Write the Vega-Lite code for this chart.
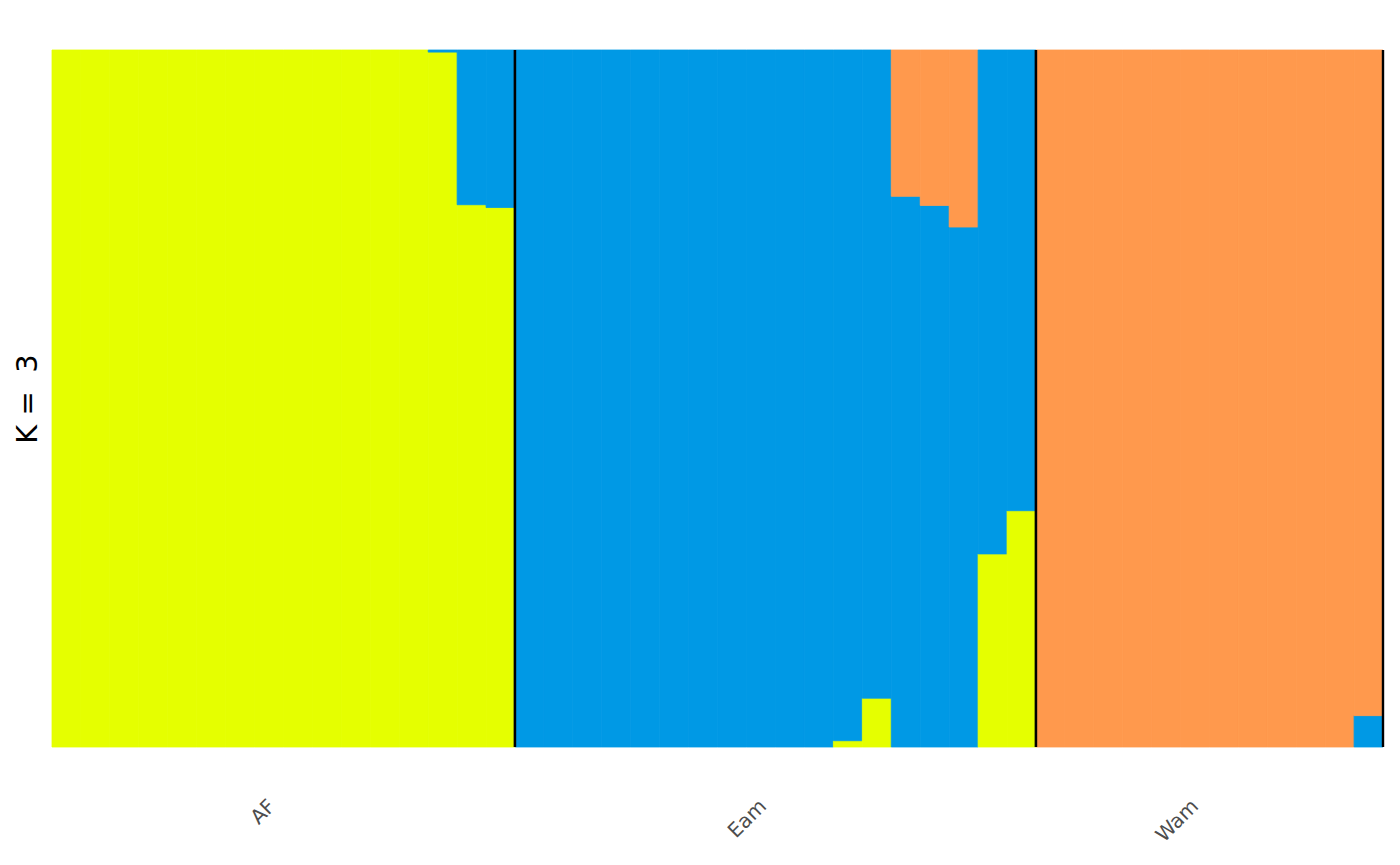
{
  "$schema": "https://vega.github.io/schema/vega-lite/v6.json",
  "padding": {"left": 13, "top": 48, "right": 12, "bottom": 5},
  "background": "white",
  "bounds": "flush",
  "data": {
    "values": [
      {"pop": "AF", "ind": 1, "k": "K1", "q": 1},
      {"pop": "AF", "ind": 2, "k": "K1", "q": 1},
      {"pop": "AF", "ind": 3, "k": "K1", "q": 1},
      {"pop": "AF", "ind": 4, "k": "K1", "q": 1},
      {"pop": "AF", "ind": 5, "k": "K1", "q": 1},
      {"pop": "AF", "ind": 6, "k": "K1", "q": 1},
      {"pop": "AF", "ind": 7, "k": "K1", "q": 1},
      {"pop": "AF", "ind": 8, "k": "K1", "q": 1},
      {"pop": "AF", "ind": 9, "k": "K1", "q": 1},
      {"pop": "AF", "ind": 10, "k": "K1", "q": 1},
      {"pop": "AF", "ind": 11, "k": "K1", "q": 1},
      {"pop": "AF", "ind": 12, "k": "K1", "q": 1},
      {"pop": "AF", "ind": 13, "k": "K1", "q": 1},
      {"pop": "AF", "ind": 14, "k": "K1", "q": 0.997},
      {"pop": "AF", "ind": 14, "k": "K2", "q": 0.003},
      {"pop": "AF", "ind": 15, "k": "K1", "q": 0.778},
      {"pop": "AF", "ind": 15, "k": "K2", "q": 0.222},
      {"pop": "AF", "ind": 16, "k": "K1", "q": 0.774},
      {"pop": "AF", "ind": 16, "k": "K2", "q": 0.226},
      {"pop": "Eam", "ind": 17, "k": "K2", "q": 1},
      {"pop": "Eam", "ind": 18, "k": "K2", "q": 1},
      {"pop": "Eam", "ind": 19, "k": "K2", "q": 1},
      {"pop": "Eam", "ind": 20, "k": "K2", "q": 1},
      {"pop": "Eam", "ind": 21, "k": "K2", "q": 1},
      {"pop": "Eam", "ind": 22, "k": "K2", "q": 1},
      {"pop": "Eam", "ind": 23, "k": "K2", "q": 1},
      {"pop": "Eam", "ind": 24, "k": "K2", "q": 1},
      {"pop": "Eam", "ind": 25, "k": "K2", "q": 1},
      {"pop": "Eam", "ind": 26, "k": "K2", "q": 1},
      {"pop": "Eam", "ind": 27, "k": "K2", "q": 1},
      {"pop": "Eam", "ind": 28, "k": "K1", "q": 0.009},
      {"pop": "Eam", "ind": 28, "k": "K2", "q": 0.991},
      {"pop": "Eam", "ind": 29, "k": "K1", "q": 0.07},
      {"pop": "Eam", "ind": 29, "k": "K2", "q": 0.93},
      {"pop": "Eam", "ind": 30, "k": "K2", "q": 0.79},
      {"pop": "Eam", "ind": 30, "k": "K3", "q": 0.21},
      {"pop": "Eam", "ind": 31, "k": "K2", "q": 0.777},
      {"pop": "Eam", "ind": 31, "k": "K3", "q": 0.223},
      {"pop": "Eam", "ind": 32, "k": "K2", "q": 0.746},
      {"pop": "Eam", "ind": 32, "k": "K3", "q": 0.254},
      {"pop": "Eam", "ind": 33, "k": "K1", "q": 0.277},
      {"pop": "Eam", "ind": 33, "k": "K2", "q": 0.723},
      {"pop": "Eam", "ind": 34, "k": "K1", "q": 0.339},
      {"pop": "Eam", "ind": 34, "k": "K2", "q": 0.661},
      {"pop": "Wam", "ind": 35, "k": "K3", "q": 1},
      {"pop": "Wam", "ind": 36, "k": "K3", "q": 1},
      {"pop": "Wam", "ind": 37, "k": "K3", "q": 1},
      {"pop": "Wam", "ind": 38, "k": "K3", "q": 1},
      {"pop": "Wam", "ind": 39, "k": "K3", "q": 1},
      {"pop": "Wam", "ind": 40, "k": "K3", "q": 1},
      {"pop": "Wam", "ind": 41, "k": "K3", "q": 1},
      {"pop": "Wam", "ind": 42, "k": "K3", "q": 1},
      {"pop": "Wam", "ind": 43, "k": "K3", "q": 1},
      {"pop": "Wam", "ind": 44, "k": "K3", "q": 1},
      {"pop": "Wam", "ind": 45, "k": "K3", "q": 1},
      {"pop": "Wam", "ind": 46, "k": "K2", "q": 0.045},
      {"pop": "Wam", "ind": 46, "k": "K3", "q": 0.955}
    ]
  },
  "spacing": 0,
  "hconcat": [
    {
      "width": 463,
      "height": 697,
      "transform": [{"filter": "datum.pop == 'AF'"}],
      "layer": [
        {
          "mark": {"type": "bar", "strokeWidth": 0.8},
          "encoding": {
            "x": {"field": "ind", "type": "ordinal", "title": "AF",
                  "scale": {"paddingInner": 0, "paddingOuter": 0},
                  "axis": {"labels": false, "ticks": false, "domain": false, "titleAngle": -45, "titleAlign": "right", "titleBaseline": "alphabetic", "titlePadding": 60, "titleX": 224}},
            "y": {"field": "q", "type": "quantitative", "stack": "zero", "title": "K = \u00a03",
                  "scale": {"domain": [0, 1], "nice": false},
                  "axis": {"labels": false, "ticks": false, "domain": false, "grid": false, "titlePadding": 10}},
            "color": {"field": "k", "type": "nominal", "legend": null,
                      "scale": {"domain": ["K1", "K2", "K3"], "range": ["#E5FF00", "#0099E5", "#FF994D"]}},
            "stroke": {"field": "k", "type": "nominal", "legend": null,
                       "scale": {"domain": ["K1", "K2", "K3"], "range": ["#E5FF00", "#0099E5", "#FF994D"]}},
            "order": {"field": "k", "sort": "ascending"}
          }
        },
        {
          "transform": [{"aggregate": [{"op": "max", "field": "ind", "as": "last"}]}],
          "mark": {"type": "rule", "color": "black", "strokeWidth": 2.4},
          "encoding": {"x": {"field": "last", "type": "ordinal", "bandPosition": 1}}
        }
      ]
    },
    {
      "width": 521,
      "height": 697,
      "transform": [{"filter": "datum.pop == 'Eam'"}],
      "layer": [
        {
          "mark": {"type": "bar", "strokeWidth": 0.8},
          "encoding": {
            "x": {"field": "ind", "type": "ordinal", "title": "Eam",
                  "scale": {"paddingInner": 0, "paddingOuter": 0},
                  "axis": {"labels": false, "ticks": false, "domain": false, "titleAngle": -45, "titleAlign": "right", "titleBaseline": "alphabetic", "titlePadding": 60, "titleX": 252}},
            "y": {"field": "q", "type": "quantitative", "stack": "zero",
                  "scale": {"domain": [0, 1], "nice": false}, "axis": null},
            "color": {"field": "k", "type": "nominal", "legend": null,
                      "scale": {"domain": ["K1", "K2", "K3"], "range": ["#E5FF00", "#0099E5", "#FF994D"]}},
            "stroke": {"field": "k", "type": "nominal", "legend": null,
                       "scale": {"domain": ["K1", "K2", "K3"], "range": ["#E5FF00", "#0099E5", "#FF994D"]}},
            "order": {"field": "k", "sort": "ascending"}
          }
        },
        {
          "transform": [{"aggregate": [{"op": "min", "field": "ind", "as": "first"}]}],
          "mark": {"type": "rule", "color": "black", "strokeWidth": 2.4},
          "encoding": {"x": {"field": "first", "type": "ordinal", "bandPosition": 0}}
        },
        {
          "transform": [{"aggregate": [{"op": "max", "field": "ind", "as": "last"}]}],
          "mark": {"type": "rule", "color": "black", "strokeWidth": 2.4},
          "encoding": {"x": {"field": "last", "type": "ordinal", "bandPosition": 1}}
        }
      ]
    },
    {
      "width": 347,
      "height": 697,
      "transform": [{"filter": "datum.pop == 'Wam'"}],
      "layer": [
        {
          "mark": {"type": "bar", "strokeWidth": 0.8},
          "encoding": {
            "x": {"field": "ind", "type": "ordinal", "title": "Wam",
                  "scale": {"paddingInner": 0, "paddingOuter": 0},
                  "axis": {"labels": false, "ticks": false, "domain": false, "titleAngle": -45, "titleAlign": "right", "titleBaseline": "alphabetic", "titlePadding": 60, "titleX": 163}},
            "y": {"field": "q", "type": "quantitative", "stack": "zero",
                  "scale": {"domain": [0, 1], "nice": false}, "axis": null},
            "color": {"field": "k", "type": "nominal", "legend": null,
                      "scale": {"domain": ["K1", "K2", "K3"], "range": ["#E5FF00", "#0099E5", "#FF994D"]}},
            "stroke": {"field": "k", "type": "nominal", "legend": null,
                       "scale": {"domain": ["K1", "K2", "K3"], "range": ["#E5FF00", "#0099E5", "#FF994D"]}},
            "order": {"field": "k", "sort": "ascending"}
          }
        },
        {
          "transform": [{"aggregate": [{"op": "min", "field": "ind", "as": "first"}]}],
          "mark": {"type": "rule", "color": "black", "strokeWidth": 2.4},
          "encoding": {"x": {"field": "first", "type": "ordinal", "bandPosition": 0}}
        },
        {
          "transform": [{"aggregate": [{"op": "max", "field": "ind", "as": "last"}]}],
          "mark": {"type": "rule", "color": "black", "strokeWidth": 2.4},
          "encoding": {"x": {"field": "last", "type": "ordinal", "bandPosition": 1}}
        }
      ]
    }
  ],
  "config": {
    "view": {"stroke": null},
    "font": "DejaVu Sans",
    "axisX": {"titleFontSize": 20, "titleFontWeight": "normal", "titleColor": "#4D4D4D"},
    "axisY": {"titleFontSize": 29, "titleFontWeight": "normal", "titleColor": "#000000"}
  }
}
